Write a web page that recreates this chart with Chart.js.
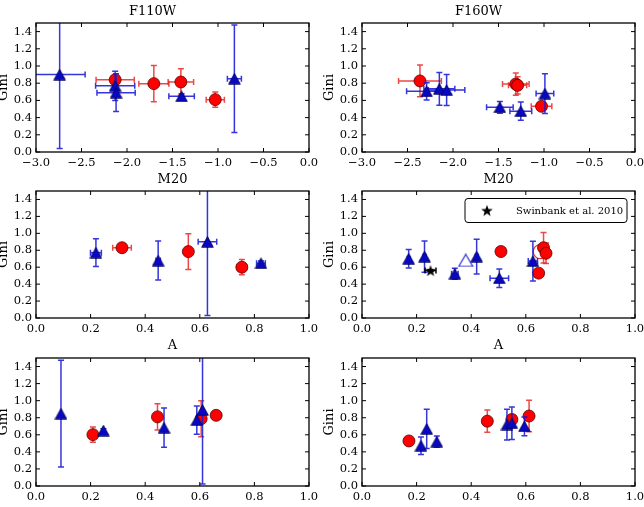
<!DOCTYPE html>
<html><head><meta charset="utf-8">
<script src="https://cdn.jsdelivr.net/npm/chart.js@4/dist/chart.umd.min.js"></script>
<style>
html,body{margin:0;padding:0;background:#fff;overflow:hidden;width:644px;height:507px;position:relative}
canvas{position:absolute}
</style></head><body>
<script>
// ---------- tick labels ----------
const m20Ticks  = [-3.0, -2.5, -2.0, -1.5, -1.0, -0.5, 0.0];
const aTicks    = [0.0, 0.2, 0.4, 0.6, 0.8, 1.0];
const giniTicks = [0.0, 0.2, 0.4, 0.6, 0.8, 1.0, 1.2, 1.4];

// ---------- F110W : M20 vs Gini ----------
const f110M20BlueX    = [-2.74, -2.13, -2.12, -1.40, -0.82];
const f110M20BlueY    = [0.90, 0.77, 0.69, 0.648, 0.853];
const f110M20BlueXErr = [0.28, 0.215, 0.21, 0.14, 0.077];
const f110M20BlueYErr = [0.86, 0.17, 0.22, 0.03, 0.625];
const f110M20RedX     = [-2.13, -1.705, -1.408, -1.03];
const f110M20RedY     = [0.84, 0.795, 0.814, 0.609];
const f110M20RedXErr  = [0.21, 0.165, 0.14, 0.10];
const f110M20RedYErr  = [0.03, 0.21, 0.155, 0.09];

// ---------- F160W : M20 vs Gini ----------
const f160M20BlueX    = [-2.29, -2.15, -2.07, -1.485, -1.255, -0.99];
const f160M20BlueY    = [0.705, 0.735, 0.72, 0.52, 0.475, 0.679];
const f160M20BlueXErr = [0.22, 0.17, 0.20, 0.146, 0.12, 0.097];
const f160M20BlueYErr = [0.10, 0.19, 0.18, 0.068, 0.105, 0.23];
const f160M20RedX     = [-2.363, -1.31, -1.29, -1.027];
const f160M20RedY     = [0.826, 0.79, 0.775, 0.531];
const f160M20RedXErr  = [0.235, 0.146, 0.10, 0.113];
const f160M20RedYErr  = [0.185, 0.13, 0.10, 0.02];

// ---------- F110W : A vs Gini ----------
const f110ABlueX    = [0.2195, 0.4475, 0.628, 0.824];
const f110ABlueY    = [0.772, 0.678, 0.90, 0.647];
const f110ABlueXErr = [0.02, 0.008, 0.034, 0.016];
const f110ABlueYErr = [0.165, 0.23, 0.87, 0.025];
const f110ARedX     = [0.315, 0.558, 0.754];
const f110ARedY     = [0.83, 0.784, 0.60];
const f110ARedXErr  = [0.034, 0.005, 0.018];
const f110ARedYErr  = [0.02, 0.21, 0.09];

// ---------- F160W : A vs Gini ----------
const f160ABlueX    = [0.171, 0.229, 0.34, 0.42, 0.503, 0.626];
const f160ABlueY    = [0.70, 0.725, 0.522, 0.725, 0.47, 0.672];
const f160ABlueXErr = [0.005, 0.005, 0.012, 0.005, 0.034, 0.017];
const f160ABlueYErr = [0.11, 0.185, 0.065, 0.205, 0.11, 0.235];
const f160ARedX     = [0.509, 0.647, 0.665, 0.674];
const f160ARedY     = [0.785, 0.53, 0.83, 0.765];
const f160ARedXErr  = [0.01, 0.005, 0.005, 0.005];
const f160ARedYErr  = [0.035, 0.02, 0.18, 0.12];
const swinbankX     = [0.251];
const swinbankY     = [0.56];
const swinbankXErr  = [0.02];
const swinbankYErr  = [0.01];
const openBlueX     = [0.38];
const openBlueY     = [0.68];
const openRedX      = [0.653];
const openRedY      = [0.784];

// ---------- F110W : bottom row ----------
const f110BBlueX    = [0.0915, 0.247, 0.469, 0.589, 0.61];
const f110BBlueY    = [0.848, 0.65, 0.683, 0.772, 0.892];
const f110BBlueYErr = [0.625, 0.02, 0.23, 0.165, 0.87];
const f110BRedX     = [0.2085, 0.445, 0.605, 0.66];
const f110BRedY     = [0.602, 0.81, 0.788, 0.828];
const f110BRedYErr  = [0.09, 0.155, 0.21, 0.02];

// ---------- F160W : bottom row ----------
const f160BBlueX    = [0.216, 0.237, 0.274, 0.531, 0.549, 0.595];
const f160BBlueY    = [0.472, 0.67, 0.52, 0.72, 0.735, 0.70];
const f160BBlueYErr = [0.103, 0.23, 0.065, 0.18, 0.19, 0.11];
const f160BRedX     = [0.172, 0.459, 0.549, 0.612];
const f160BRedY     = [0.528, 0.76, 0.78, 0.82];
const f160BRedYErr  = [0.01, 0.13, 0.05, 0.185];

// ================= rendering =================
const FONT = 'DejaVu Serif';
const RED_BAR = 'rgba(232,40,40,0.85)';
const BLUE_BAR = 'rgba(25,25,215,0.88)';

function markerCanvas(w, h, draw) {
  const c = document.createElement('canvas');
  c.width = w; c.height = h;
  draw(c.getContext('2d'), w, h);
  return c;
}
const triFilled = markerCanvas(13, 12, (g, w, h) => {
  g.beginPath(); g.moveTo(w / 2, 0.7); g.lineTo(w - 0.7, h - 0.7); g.lineTo(0.7, h - 0.7); g.closePath();
  g.fillStyle = '#0808c4'; g.fill(); g.lineWidth = 0.8; g.strokeStyle = '#00004a'; g.stroke();
});
const triOpen = markerCanvas(16, 14, (g, w, h) => {
  g.beginPath(); g.moveTo(w / 2, 1); g.lineTo(w - 1, h - 1); g.lineTo(1, h - 1); g.closePath();
  g.lineWidth = 1.2; g.strokeStyle = '#2a2ae0'; g.stroke();
});
const starMarker = markerCanvas(14, 14, (g, w, h) => {
  g.beginPath();
  const cx = w / 2, cy = h / 2 + 0.6, R = 6.2, r = 2.5;
  for (let k = 0; k < 10; k++) {
    const ang = -Math.PI / 2 + k * Math.PI / 5;
    const rr = k % 2 ? r : R;
    const px = cx + rr * Math.cos(ang), py = cy + rr * Math.sin(ang);
    k ? g.lineTo(px, py) : g.moveTo(px, py);
  }
  g.closePath(); g.fillStyle = '#000'; g.fill();
});

function pts(xs, ys) { return xs.map((v, i) => ({x: v, y: ys[i]})); }
function blue(xs, ys, xe, ye) {
  return {data: pts(xs, ys), xErr: xe, yErr: ye, errColor: BLUE_BAR,
    pointStyle: triFilled, pointRadius: 7, order: 1};
}
function red(xs, ys, xe, ye) {
  return {data: pts(xs, ys), xErr: xe, yErr: ye, errColor: RED_BAR,
    pointStyle: 'circle', pointRadius: 6, backgroundColor: '#ff0000',
    borderColor: '#5a0000', borderWidth: 0.8, order: 2};
}

const errorBars = {
  id: 'errorBars',
  beforeDatasetDraw(chart, args) {
    const ds = chart.data.datasets[args.index];
    if (!ds.xErr && !ds.yErr) return;
    const {ctx, chartArea: a, scales: {x, y}} = chart;
    ctx.save();
    ctx.beginPath(); ctx.rect(a.left, a.top, a.right - a.left, a.bottom - a.top); ctx.clip();
    ctx.strokeStyle = ds.errColor; ctx.lineWidth = 1.5;
    const cap = 3;
    ds.data.forEach((p, i) => {
      const px = x.getPixelForValue(p.x), py = y.getPixelForValue(p.y);
      ctx.beginPath();
      const ye = ds.yErr ? ds.yErr[i] : 0;
      if (ye > 0) {
        const y1 = y.getPixelForValue(p.y - ye), y2 = y.getPixelForValue(p.y + ye);
        ctx.moveTo(px, y1); ctx.lineTo(px, y2);
        ctx.moveTo(px - cap, y1); ctx.lineTo(px + cap, y1);
        ctx.moveTo(px - cap, y2); ctx.lineTo(px + cap, y2);
      }
      const xe = ds.xErr ? ds.xErr[i] : 0;
      if (xe > 0) {
        const x1 = x.getPixelForValue(p.x - xe), x2 = x.getPixelForValue(p.x + xe);
        ctx.moveTo(x1, py); ctx.lineTo(x2, py);
        ctx.moveTo(x1, py - cap); ctx.lineTo(x1, py + cap);
        ctx.moveTo(x2, py - cap); ctx.lineTo(x2, py + cap);
      }
      ctx.stroke();
    });
    ctx.restore();
  }
};

const frame = {
  id: 'frame',
  afterDraw(chart) {
    const {ctx, chartArea: a, scales: {x, y}} = chart;
    ctx.save();
    ctx.strokeStyle = '#000'; ctx.lineWidth = 1.3;
    ctx.strokeRect(a.left, a.top, a.right - a.left, a.bottom - a.top);
    const T = 4;
    ctx.lineWidth = 1;
    ctx.beginPath();
    x.ticks.forEach(t => {
      const px = x.getPixelForValue(t.value);
      ctx.moveTo(px, a.bottom); ctx.lineTo(px, a.bottom - T);
      ctx.moveTo(px, a.top); ctx.lineTo(px, a.top + T);
    });
    y.ticks.forEach(t => {
      const py = y.getPixelForValue(t.value);
      ctx.moveTo(a.left, py); ctx.lineTo(a.left + T, py);
      ctx.moveTo(a.right, py); ctx.lineTo(a.right - T, py);
    });
    ctx.stroke();
    const lg = chart.options.plugins.boxLegend;
    if (lg && lg.text) {
      const bw = 162, bh = 24;
      const bx = a.right - 8 - bw, by = a.top + 7.5;
      ctx.lineWidth = 1; ctx.strokeStyle = '#000'; ctx.fillStyle = '#fff';
      ctx.beginPath();
      if (ctx.roundRect) ctx.roundRect(bx, by, bw, bh, 3); else ctx.rect(bx, by, bw, bh);
      ctx.fill(); ctx.stroke();
      ctx.drawImage(starMarker, bx + 22 - 7, by + bh / 2 - 7);
      ctx.fillStyle = '#000'; ctx.font = '10px "' + FONT + '"';
      ctx.textBaseline = 'middle'; ctx.textAlign = 'left';
      ctx.fillText(lg.text, bx + 51, by + bh / 2 + 0.5);
    }
    ctx.restore();
  }
};

const fmt = v => (Math.abs(v) < 1e-9 ? 0 : v).toFixed(1).replace('-', '\u2212');

function panel(o) {
  const cv = document.createElement('canvas');
  const cx = o.L - 40, cy = o.T - 23;
  const cw = (o.R - o.L) + 54, ch = (o.B - o.T) + 59;
  cv.width = cw; cv.height = ch;
  cv.style.left = cx + 'px'; cv.style.top = cy + 'px';
  cv.style.width = cw + 'px'; cv.style.height = ch + 'px';
  document.body.appendChild(cv);
  const tickFont = {family: FONT, size: 11.5};
  new Chart(cv, {
    type: 'scatter',
    data: {datasets: o.datasets},
    options: {
      responsive: false, animation: false, devicePixelRatio: 1,
      layout: {padding: {left: 0, right: 14, bottom: 0, top: o.title ? 0 : 23}},
      plugins: {
        legend: {display: false}, tooltip: {enabled: false},
        title: {display: !!o.title, text: o.title || '', color: '#000',
          font: {family: FONT, size: 13, weight: 'normal'}, padding: {top: 4, bottom: 3.4}},
        boxLegend: {text: o.legend || ''}
      },
      scales: {
        x: {
          type: 'linear', min: o.xTicks[0], max: o.xTicks[o.xTicks.length - 1],
          afterBuildTicks: s => { s.ticks = o.xTicks.map(v => ({value: v})); },
          afterFit: s => { s.height = 36; },
          ticks: {padding: 4, color: '#000', font: tickFont, callback: fmt, maxRotation: 0, autoSkip: false},
          grid: {display: false, drawTicks: false}, border: {display: false},
          title: {display: !!o.xlabel, text: o.xlabel || '', color: '#000',
            font: {family: FONT, size: 13}, padding: {top: 0, bottom: 1}}
        },
        y: {
          type: 'linear', min: 0, max: 1.5,
          afterBuildTicks: s => { s.ticks = giniTicks.map(v => ({value: v})); },
          afterFit: s => { s.width = 40; },
          ticks: {padding: 4, color: '#000', font: tickFont, callback: fmt, autoSkip: false},
          grid: {display: false, drawTicks: false}, border: {display: false},
          title: {display: true, text: 'Gini', color: '#000',
            font: {family: FONT, size: 13}, padding: {top: 0, bottom: 0}}
        }
      }
    },
    plugins: [errorBars, frame]
  });
}

const LC = {L: 36, R: 309}, RC = {L: 362, R: 635};
const ROW1 = {T: 23, B: 152}, ROW2 = {T: 191, B: 318}, ROW3 = {T: 358, B: 486};

panel({...LC, ...ROW1, title: 'F110W', xlabel: 'M20', xTicks: m20Ticks, datasets: [
  blue(f110M20BlueX, f110M20BlueY, f110M20BlueXErr, f110M20BlueYErr),
  red(f110M20RedX, f110M20RedY, f110M20RedXErr, f110M20RedYErr)]});
panel({...RC, ...ROW1, title: 'F160W', xlabel: 'M20', xTicks: m20Ticks, datasets: [
  blue(f160M20BlueX, f160M20BlueY, f160M20BlueXErr, f160M20BlueYErr),
  red(f160M20RedX, f160M20RedY, f160M20RedXErr, f160M20RedYErr)]});
panel({...LC, ...ROW2, xlabel: 'A', xTicks: aTicks, datasets: [
  blue(f110ABlueX, f110ABlueY, f110ABlueXErr, f110ABlueYErr),
  red(f110ARedX, f110ARedY, f110ARedXErr, f110ARedYErr)]});
panel({...RC, ...ROW2, xlabel: 'A', xTicks: aTicks, legend: 'Swinbank et al. 2010', datasets: [
  {data: pts(swinbankX, swinbankY), xErr: swinbankXErr, yErr: swinbankYErr, errColor: '#000',
    pointStyle: starMarker, pointRadius: 7, order: 0},
  blue(f160ABlueX, f160ABlueY, f160ABlueXErr, f160ABlueYErr),
  red(f160ARedX, f160ARedY, f160ARedXErr, f160ARedYErr),
  {data: pts(openBlueX, openBlueY), pointStyle: triOpen, pointRadius: 8, order: 3},
  {data: pts(openRedX, openRedY), pointStyle: 'circle', pointRadius: 7,
    backgroundColor: 'rgba(0,0,0,0)', borderColor: '#e83030', borderWidth: 1.2, order: 3}]});
panel({...LC, ...ROW3, xTicks: aTicks, datasets: [
  blue(f110BBlueX, f110BBlueY, null, f110BBlueYErr),
  red(f110BRedX, f110BRedY, null, f110BRedYErr)]});
panel({...RC, ...ROW3, xTicks: aTicks, datasets: [
  blue(f160BBlueX, f160BBlueY, null, f160BBlueYErr),
  red(f160BRedX, f160BRedY, null, f160BRedYErr)]});
</script>
</body></html>
